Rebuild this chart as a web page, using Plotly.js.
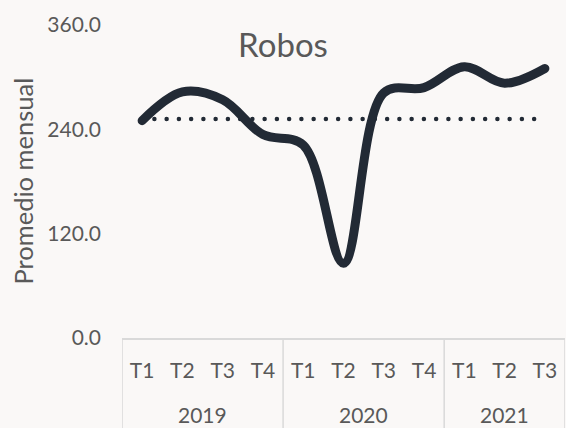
<!DOCTYPE html>
<html>
<head>
<meta charset="utf-8">
<script src="https://cdn.plot.ly/plotly-3.0.1.min.js"></script>
<style>
  html, body { margin: 0; padding: 0; background: #faf8f7; }
  #chart { width: 566px; height: 428px; }
  .scatterlayer .trace path.js-line { stroke-linecap: round; stroke-linejoin: round; }
</style>
</head>
<body>
<div id="chart"></div>
<script>
const years = ['2019','2019','2019','2019','2020','2020','2020','2020','2021','2021','2021'];
const quarters = ['T1','T2','T3','T4','T1','T2','T3','T4','T1','T2','T3'];
const robos = [250, 283, 274, 234, 222, 86, 282, 288, 312, 293, 310];
const promedio = [252, 252, 252, 252, 252, 252, 252, 252, 252, 252, 252];
const yTicks = [0, 120, 240, 360];

const fontFamily = 'Lato, "Liberation Sans", sans-serif';
const textColor = '#595959';
const frameColor = '#d9d9d9';

// unique category keys (year + quarter); quarter shown as tick text
const categories = years.map((y, i) => y + ' ' + quarters[i]);

// year groups -> first/last index
const groups = [];
years.forEach((y, i) => {
  const g = groups[groups.length - 1];
  if (g && g.year === y) g.end = i; else groups.push({ year: y, start: i, end: i });
});

const yearAnnotations = groups.map(g => ({
  text: g.year,
  xref: 'x', yref: 'paper',
  x: (g.start + g.end) / 2, y: -0.243,
  xanchor: 'center', yanchor: 'middle',
  showarrow: false,
  font: { family: fontFamily, size: 21, color: textColor }
}));

const dividerPositions = [groups[0].start - 0.5].concat(groups.map(g => g.end + 0.5));
const dividers = dividerPositions.map(p => ({
  type: 'line', xref: 'x', yref: 'paper',
  x0: p, x1: p, y0: 0, y1: -0.3,
  line: { color: frameColor, width: 1.5 }
}));

const traces = [
  {
    x: categories,
    y: promedio,
    type: 'scatter',
    mode: 'lines',
    line: { color: '#222a35', width: 4.5, dash: '0px,12.25px' },
    hoverinfo: 'skip'
  },
  {
    x: categories,
    y: robos,
    type: 'scatter',
    mode: 'lines',
    line: { color: '#222a35', width: 9, shape: 'spline', smoothing: 1 }
  }
];

const layout = {
  width: 566,
  height: 428,
  paper_bgcolor: '#faf8f7',
  plot_bgcolor: '#faf8f7',
  showlegend: false,
  margin: { l: 122, r: 1, t: 25, b: 90 },
  font: { family: fontFamily, color: textColor, size: 21 },
  title: {
    text: 'Robos',
    font: { family: fontFamily, size: 33, color: textColor },
    x: 0.5, xref: 'container', xanchor: 'center',
    y: 1 - 45 / 428, yref: 'container', yanchor: 'middle'
  },
  xaxis: {
    type: 'category',
    range: [-0.5, categories.length - 0.5],
    tickvals: categories,
    ticktext: quarters,
    showline: true,
    linecolor: frameColor,
    linewidth: 1.5,
    showgrid: false,
    zeroline: false,
    ticks: '',
    ticklabelstandoff: 13,
    tickfont: { family: fontFamily, size: 21, color: textColor }
  },
  yaxis: {
    range: [0, 360],
    tickvals: yTicks,
    tickformat: '.1f',
    showline: false,
    showgrid: false,
    zeroline: false,
    ticks: '',
    ticklabelstandoff: 20,
    tickfont: { family: fontFamily, size: 21, color: textColor }
  },
  shapes: dividers,
  annotations: [
    {
      text: 'Promedio mensual',
      textangle: -90,
      xref: 'paper', yref: 'paper',
      x: -0.2257, y: 0.5,
      xanchor: 'center', yanchor: 'middle',
      showarrow: false,
      font: { family: fontFamily, size: 25.5, color: textColor }
    }
  ].concat(yearAnnotations)
};

Plotly.newPlot('chart', traces, layout, { displayModeBar: false, staticPlot: true });
</script>
</body>
</html>
